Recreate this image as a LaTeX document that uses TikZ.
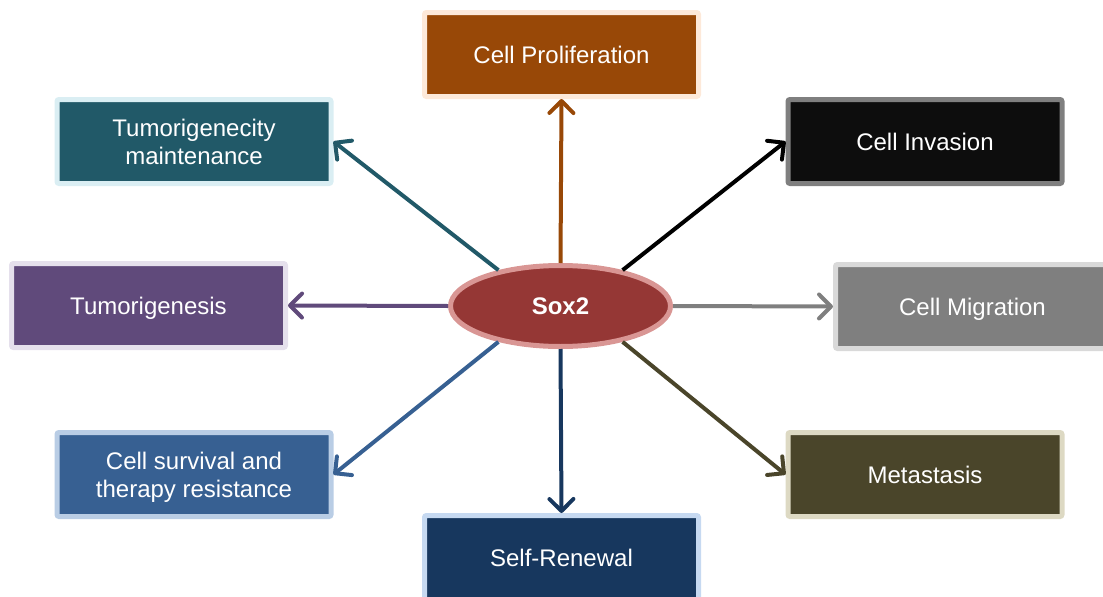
\documentclass[tikz,border=0pt]{standalone}
\usepackage{fontspec}
\setmainfont{Liberation Sans}
\usetikzlibrary{shapes,shapes.geometric,arrows.meta,calc}

\definecolor{prolifC}{HTML}{984807}
\definecolor{prolifB}{HTML}{FDE9D9}
\definecolor{maintC}{HTML}{215968}
\definecolor{maintB}{HTML}{DAEEF3}
\definecolor{invasC}{HTML}{0D0D0D}
\definecolor{invasB}{HTML}{7F7F7F}
\definecolor{genesC}{HTML}{604A7B}
\definecolor{genesB}{HTML}{E5E0EC}
\definecolor{migrC}{HTML}{7F7F7F}
\definecolor{migrB}{HTML}{D9D9D9}
\definecolor{survC}{HTML}{376092}
\definecolor{survB}{HTML}{B9CDE5}
\definecolor{metaC}{HTML}{4A452A}
\definecolor{metaB}{HTML}{DDD9C3}
\definecolor{renewC}{HTML}{17375E}
\definecolor{renewB}{HTML}{C6D9F1}
\definecolor{soxC}{HTML}{953735}
\definecolor{soxB}{HTML}{D99694}

\begin{document}
\begin{tikzpicture}[x=1pt,y=-1pt,align=center,
  box/.style={rectangle,rounded corners=2pt,line width=5pt,
    minimum width=274pt,minimum height=84pt,text=white,text depth=0pt,
    font=\fontsize{24}{28}\selectfont},
  link/.style={line width=4pt,-{Straight Barb[round,length=12pt,width=24pt]}}]
  \useasboundingbox (0,0) rectangle (1103,597);

  \node[ellipse,fill=soxC,draw=soxB,line width=5pt,minimum width=220pt,
    minimum height=81pt,inner sep=0pt,text=white,
    font=\fontsize{24}{28}\selectfont\bfseries] (sox) at (560.5,306) {Sox2};

  \node[box,fill=prolifC,draw=prolifB] (prolif) at (561.5,54.5) {Cell Proliferation};
  \node[box,fill=maintC,draw=maintB] (maint) at (194,141.5) {Tumorigenecity\\maintenance};
  \node[box,fill=invasC,draw=invasB] (invas) at (925,141.5) {Cell Invasion};
  \node[box,fill=genesC,draw=genesB] (genes) at (148.5,305.5) {Tumorigenesis};
  \node[box,fill=migrC,draw=migrB] (migr) at (972.5,306.5) {Cell Migration};
  \node[box,fill=survC,draw=survB] (surv) at (194,474.5) {Cell survival and\\therapy resistance};
  \node[box,fill=metaC,draw=metaB] (meta) at (925,474.5) {Metastasis};
  \node[box,fill=renewC,draw=renewB] (renew) at (561.5,557.5) {Self-Renewal};

  \draw[link,prolifC] (sox.north) -- (prolif.south);
  \draw[link,maintC] (sox.150) -- (maint.east);
  \draw[link,black] (sox.30) -- (invas.west);
  \draw[link,genesC] (sox.west) -- (genes.east);
  \draw[link,migrC] (sox.east) -- (migr.west);
  \draw[link,survC] (sox.210) -- (surv.east);
  \draw[link,metaC] (sox.330) -- (meta.west);
  \draw[link,renewC] (sox.south) -- (renew.north);
\end{tikzpicture}
\end{document}
